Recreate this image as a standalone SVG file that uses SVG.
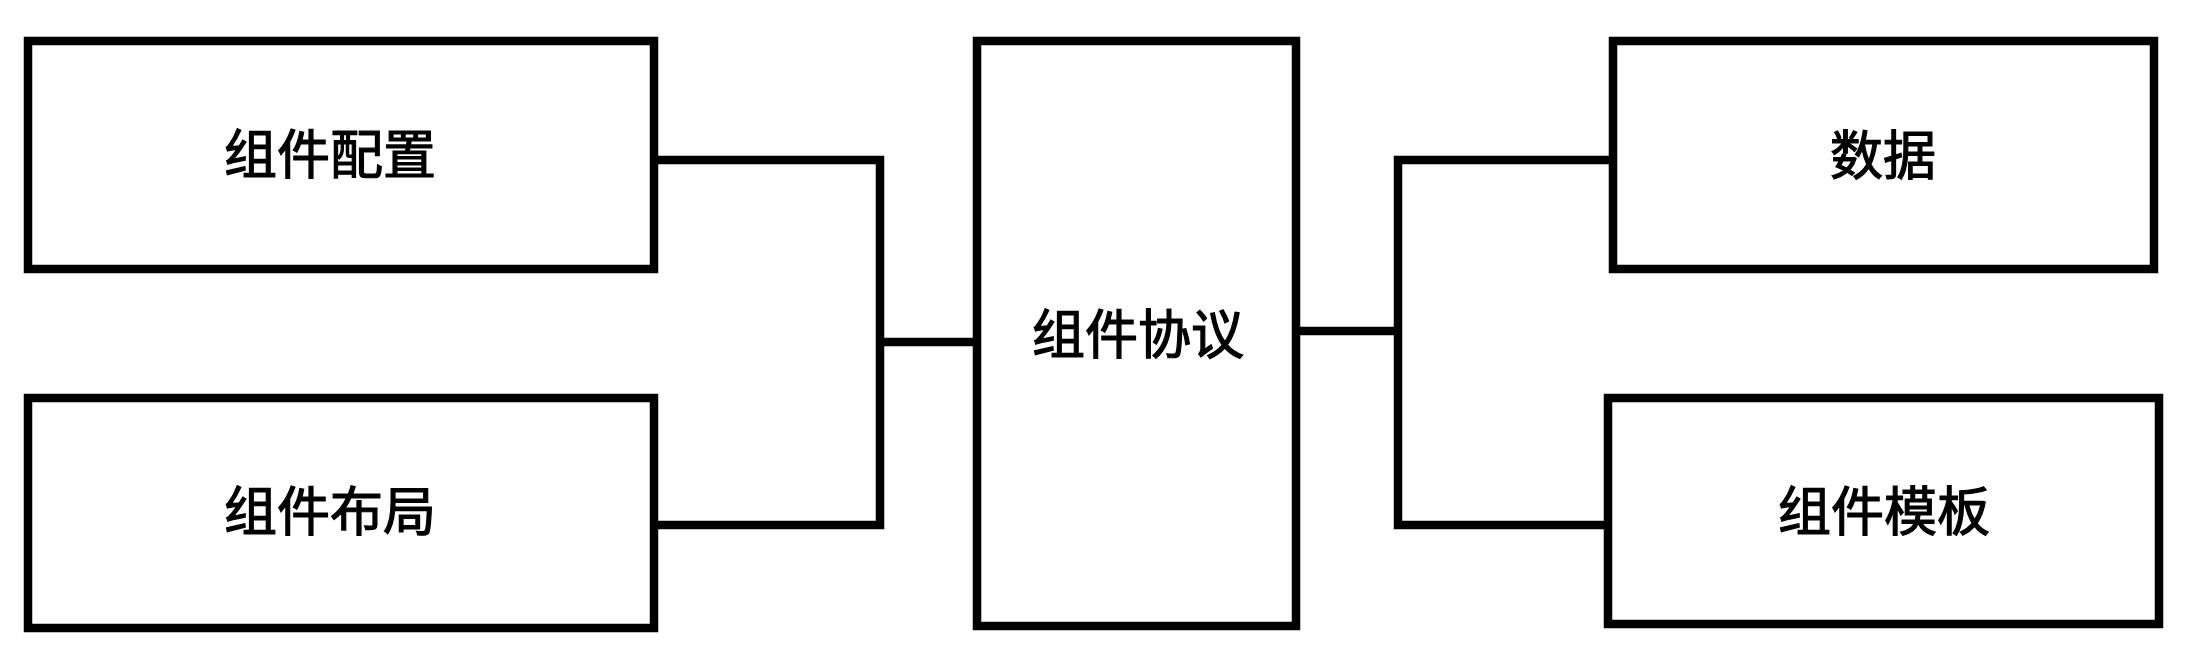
<svg xmlns="http://www.w3.org/2000/svg" width="2194" height="654" viewBox="0 0 2194 654">
<style>
.box{fill:#fff;stroke:#000;stroke-width:8.5}
.ln{fill:none;stroke:#000;stroke-width:8.5}
.t{font-family:"Noto Sans CJK SC","Noto Sans",sans-serif;font-size:53px;fill:#000;stroke:#000;stroke-width:1.2;text-anchor:middle;dominant-baseline:central;font-weight:normal}
</style>
<rect width="2194" height="654" fill="#fff"/>
<g id="connectors">
<polyline class="ln" points="654,160 880,160 880,525 654,525"/>
<line class="ln" x1="880" y1="342" x2="977" y2="342"/>
<polyline class="ln" points="1613,160 1398,160 1398,525 1608,525"/>
<line class="ln" x1="1296" y1="331" x2="1398" y2="331"/>
</g>
<g id="n1"><rect class="box" x="28" y="41" width="626" height="228"/><text class="t" x="330" y="151">组件配置</text></g>
<g id="n2"><rect class="box" x="28" y="398" width="626" height="230"/><text class="t" x="330" y="508">组件布局</text></g>
<g id="n3"><rect class="box" x="977" y="41" width="319" height="585"/><text class="t" x="1138" y="331">组件协议</text></g>
<g id="n4"><rect class="box" x="1613" y="41" width="541" height="228"/><text class="t" x="1883" y="152">数据</text></g>
<g id="n5"><rect class="box" x="1608" y="398" width="551" height="226"/><text class="t" x="1884" y="508">组件模板</text></g>
</svg>
